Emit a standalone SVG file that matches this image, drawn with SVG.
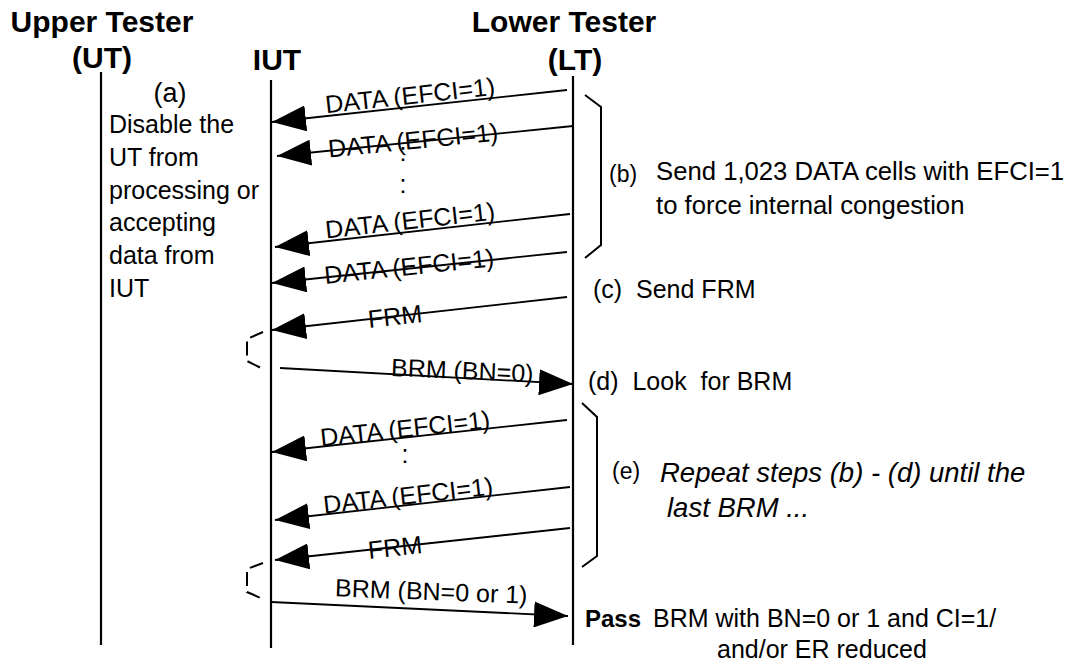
<svg xmlns="http://www.w3.org/2000/svg" width="1071" height="667" viewBox="0 0 1071 667">
<style>
text{font-family:"Liberation Sans",Arial,sans-serif;fill:#000}
.h{font-size:30px;font-weight:bold}
.t{font-size:25px}
.tb{font-size:25.7px}
.s{font-size:23px}
.i{font-size:27.5px;font-style:italic}
.life{stroke:#000;stroke-width:2.2;fill:none}
.msg{stroke:#000;stroke-width:1.8;fill:none}
.br{stroke:#000;stroke-width:2;fill:none}
.dbr{stroke:#000;stroke-width:2;fill:none;stroke-dasharray:14 6}
</style>
<defs>
<marker id="ah" markerUnits="userSpaceOnUse" viewBox="0 -13 34 26" refX="34" refY="0" markerWidth="34" markerHeight="26" orient="auto">
<path d="M0,-13 L34,0 L0,13 Z" fill="#000"/>
</marker>
</defs>

<g id="ut">
<text class="h" x="102" y="32" text-anchor="middle">Upper Tester</text>
<text class="h" x="102" y="68" text-anchor="middle">(UT)</text>
<line class="life" x1="101" y1="72" x2="101" y2="645"/>
</g>
<g id="iut">
<text class="h" x="277" y="70" text-anchor="middle">IUT</text>
<line class="life" x1="271" y1="80" x2="271" y2="648"/>
</g>
<g id="lt">
<text class="h" x="564" y="32" text-anchor="middle">Lower Tester</text>
<text class="h" x="575" y="70" text-anchor="middle">(LT)</text>
<line class="life" x1="573" y1="76" x2="573" y2="645"/>
</g>

<g id="note-a">
<text class="t" x="170" y="102" text-anchor="middle" style="font-size:27px">(a)</text>
<text class="t" x="109" y="133">Disable the</text>
<text class="t" x="109" y="166">UT from</text>
<text class="t" x="109" y="199">processing or</text>
<text class="t" x="109" y="231">accepting</text>
<text class="t" x="109" y="264">data from</text>
<text class="t" x="109" y="297">IUT</text>
</g>

<g id="note-b">
<path class="br" d="M585,95 L601,107 L601,245 L585,258"/>
<text class="s" x="609" y="182">(b)</text>
<text class="tb" x="656" y="180">Send 1,023 DATA cells with EFCI=1</text>
<text class="tb" x="656" y="214">to force internal congestion</text>
</g>
<g id="note-c">
<text class="t" x="593" y="298" xml:space="preserve">(c)  Send FRM</text>
</g>
<g id="note-d">
<text class="t" x="588" y="390" xml:space="preserve">(d)  Look  for BRM</text>
</g>
<g id="note-e">
<path class="br" d="M582,403 L597,417 L597,556 L582,567"/>
<text class="s" x="612" y="479">(e)</text>
<text class="i" x="660" y="482">Repeat steps (b) - (d) until the</text>
<text class="i" x="667" y="517">last BRM ...</text>
</g>
<g id="verdict">
<text class="t" x="585" y="627" font-weight="bold" style="font-size:24px">Pass</text>
<text class="t" x="653" y="627">BRM with BN=0 or 1 and CI=1/</text>
<text class="t" x="717" y="658">and/or ER reduced</text>
</g>

<g id="connectors">
<line class="msg" x1="567" y1="90" x2="272" y2="122" marker-end="url(#ah)"/>
<text class="t" x="411" y="104" text-anchor="middle" transform="rotate(-6.2 411 104)">DATA (EFCI=1)</text>

<line class="msg" x1="573" y1="126" x2="277" y2="156" marker-end="url(#ah)"/>
<text class="t" x="414" y="149" text-anchor="middle" transform="rotate(-5.8 414 149)">DATA (EFCI=1)</text>

<text class="t" x="403" y="161" text-anchor="middle">:</text>
<text class="t" x="403" y="193" text-anchor="middle">:</text>

<line class="msg" x1="570" y1="214" x2="275" y2="247" marker-end="url(#ah)"/>
<text class="t" x="411" y="229" text-anchor="middle" transform="rotate(-6.4 411 229)">DATA (EFCI=1)</text>

<line class="msg" x1="567" y1="252" x2="272" y2="283" marker-end="url(#ah)"/>
<text class="t" x="410" y="275" text-anchor="middle" transform="rotate(-6 410 275)">DATA (EFCI=1)</text>

<line class="msg" x1="567" y1="297" x2="272" y2="330" marker-end="url(#ah)"/>
<text class="t" x="396" y="325" text-anchor="middle" transform="rotate(-6.4 396 325)">FRM</text>

<path class="dbr" d="M263,332 L247,339 L247,361 L263,369"/>
<line class="msg" x1="280" y1="368" x2="573" y2="384" marker-end="url(#ah)"/>
<text class="t" x="462" y="379" text-anchor="middle" transform="rotate(2.5 462 379)">BRM (BN=0)</text>

<line class="msg" x1="567" y1="420" x2="272" y2="452" marker-end="url(#ah)"/>
<text class="t" x="406" y="437" text-anchor="middle" transform="rotate(-6.2 406 437)">DATA (EFCI=1)</text>

<text class="t" x="405" y="463" text-anchor="middle">:</text>

<line class="msg" x1="570" y1="487" x2="275" y2="520" marker-end="url(#ah)"/>
<text class="t" x="409" y="504" text-anchor="middle" transform="rotate(-6.4 409 504)">DATA (EFCI=1)</text>

<line class="msg" x1="570" y1="528" x2="275" y2="560" marker-end="url(#ah)"/>
<text class="t" x="396" y="556" text-anchor="middle" transform="rotate(-6.2 396 556)">FRM</text>

<path class="dbr" d="M263,563 L247,569 L247,592 L263,599"/>
<line class="msg" x1="271" y1="602" x2="568" y2="616" marker-end="url(#ah)"/>
<text class="t" x="431" y="600" text-anchor="middle" transform="rotate(2.2 431 600)">BRM (BN=0 or 1)</text>
</g>
</svg>
